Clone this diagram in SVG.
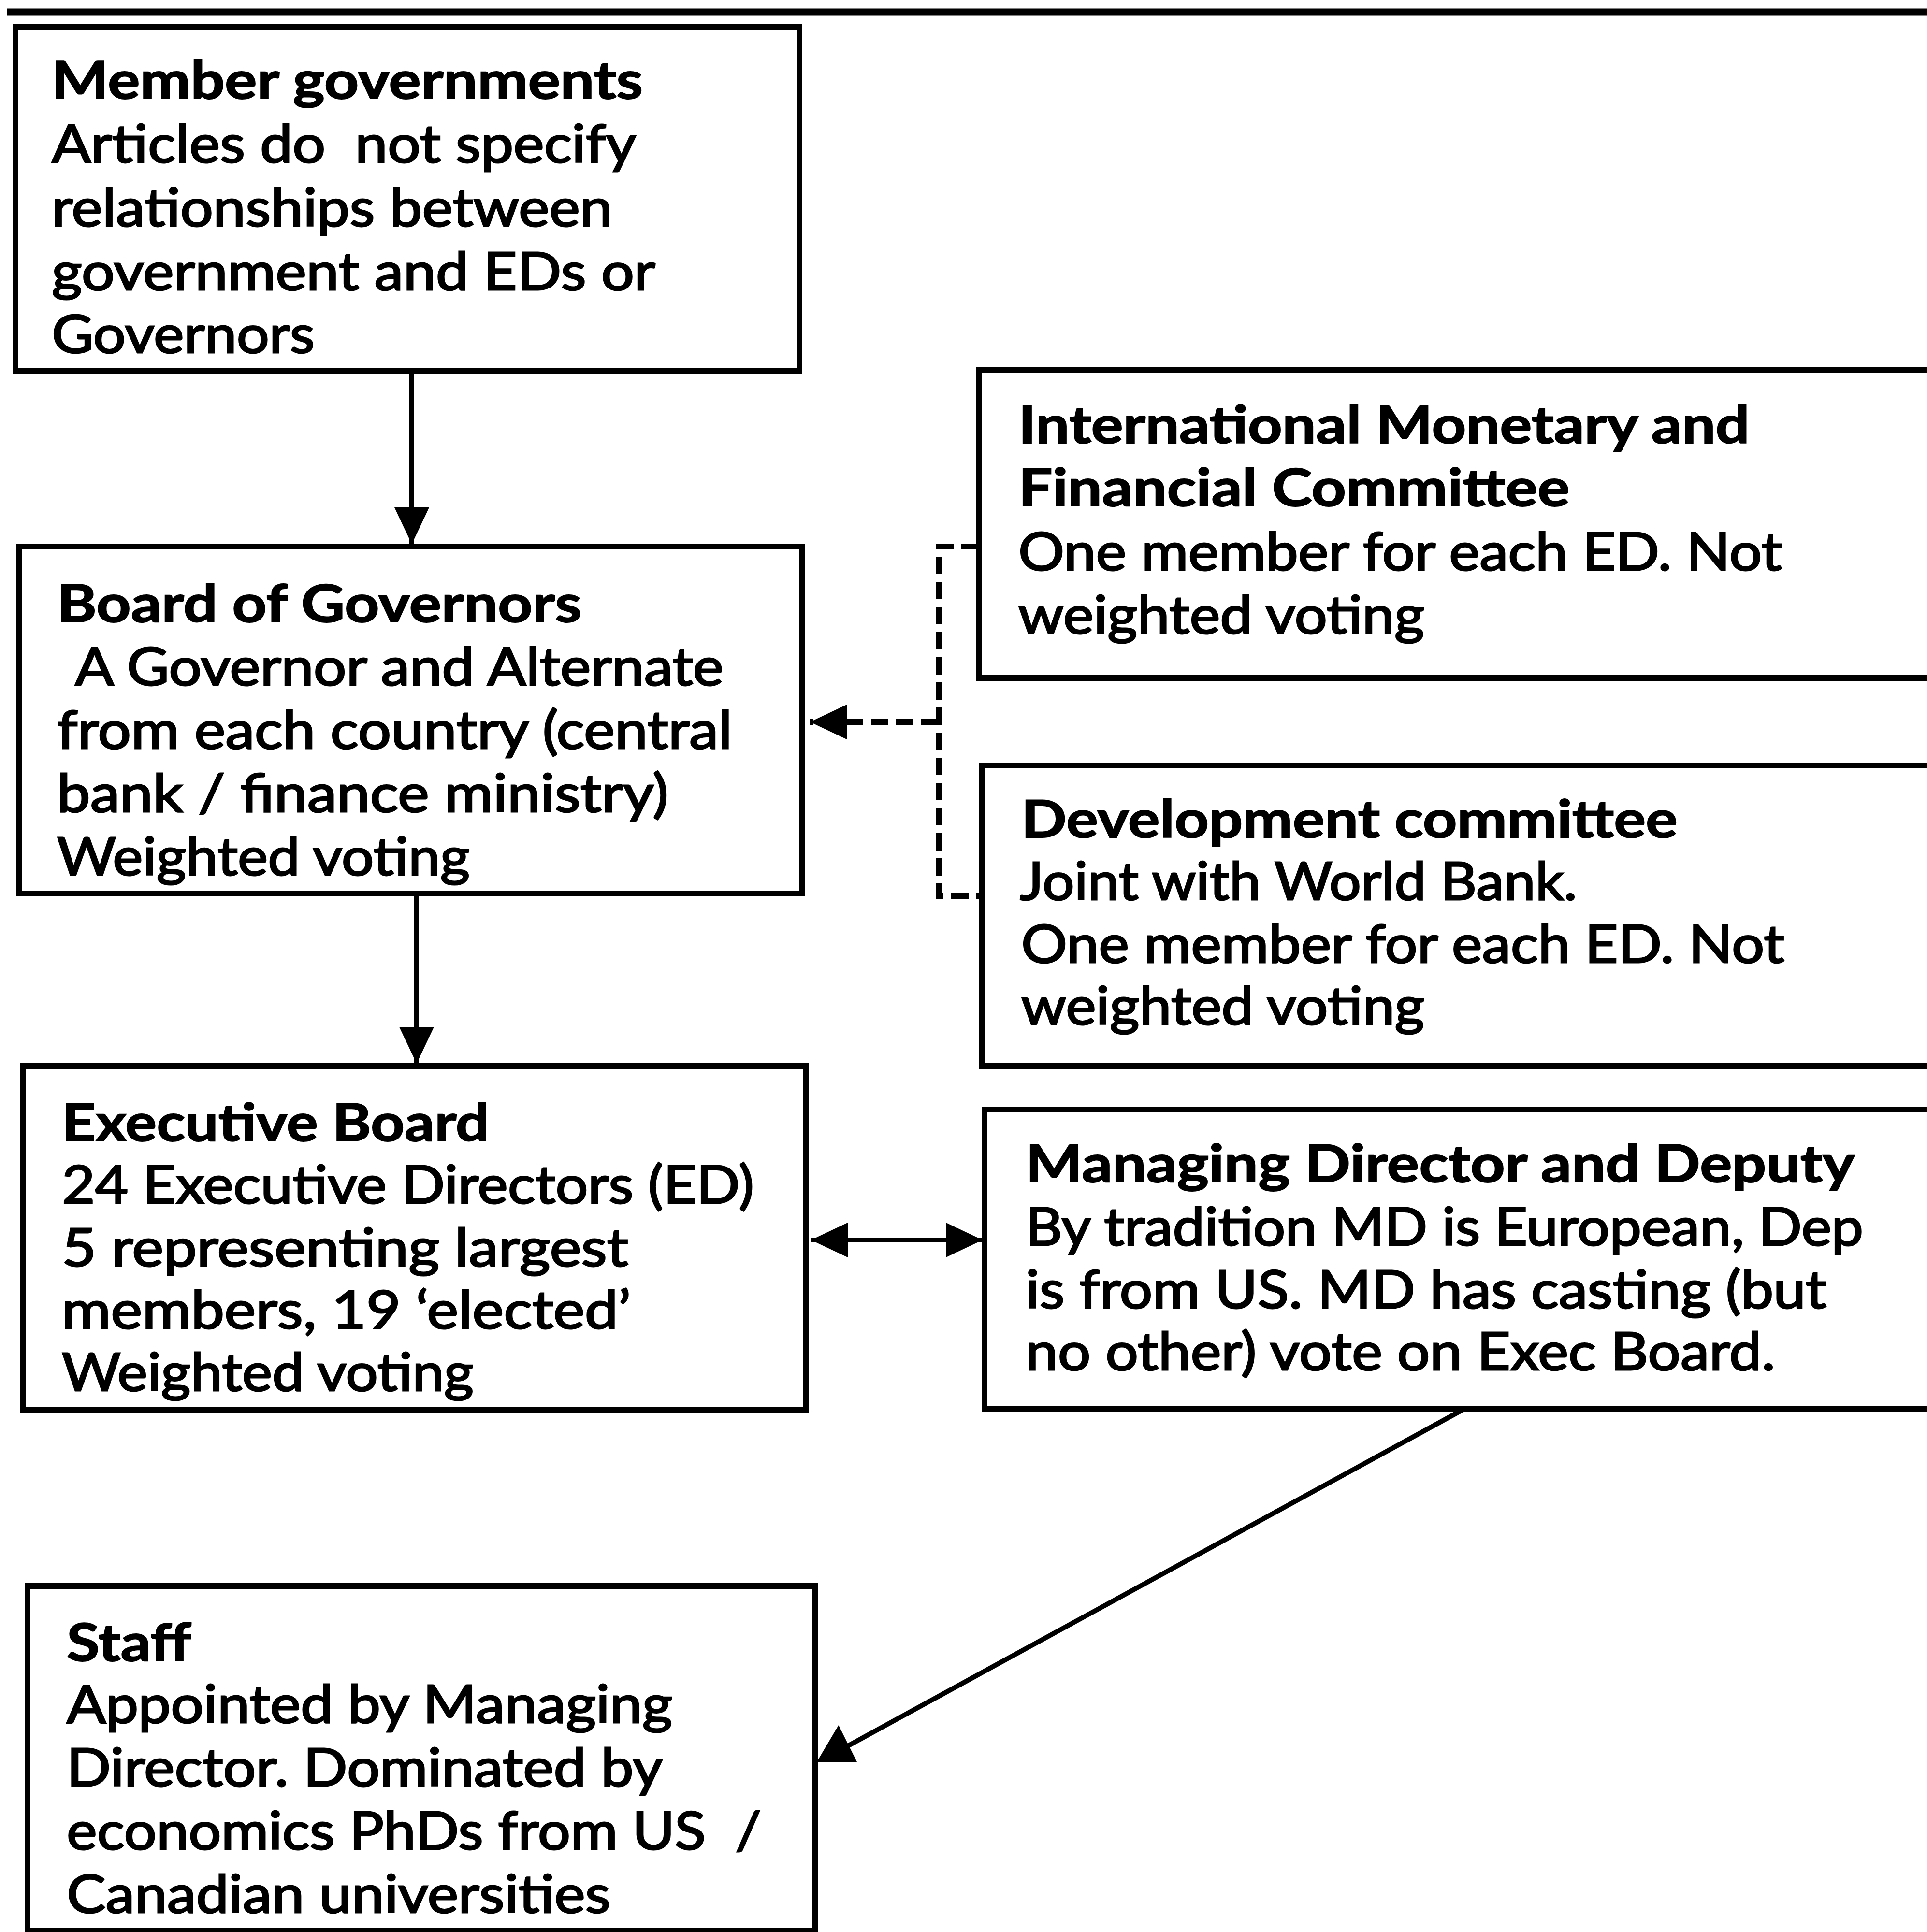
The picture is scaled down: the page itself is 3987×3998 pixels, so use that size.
<svg xmlns="http://www.w3.org/2000/svg" width="3987" height="3998" viewBox="0 0 3987 3998">
<style>
  .box { fill: #fff; stroke: #000; stroke-width: 12; }
  text { font-family: Lato, "Open Sans", "Liberation Sans", sans-serif; font-size: 108px; fill: #000; stroke: #000; stroke-width: 3; }
  .b { font-weight: 700; stroke-width: 2; }
  .con { fill: none; stroke: #000; stroke-width: 10; }
  .dash { fill: none; stroke: #000; stroke-width: 12; stroke-dasharray: 36 16; }
  .head { fill: #000; stroke: none; }
</style>
<defs>
  <marker id="arrow" viewBox="0 0 76 72" refX="76" refY="36" markerWidth="76" markerHeight="72" markerUnits="userSpaceOnUse" orient="auto-start-reverse">
    <path d="M0,0 L76,36 L0,72 z" fill="#000"/>
  </marker>
</defs>
<rect width="3987" height="3998" fill="#fff"/>
<line x1="15" y1="25" x2="3987" y2="25" stroke="#000" stroke-width="15"/>

<g id="connectors">
  <line class="con" x1="852" y1="768" x2="852" y2="1126" marker-end="url(#arrow)"/>
  <line class="con" x1="862" y1="1849" x2="862" y2="2201" marker-end="url(#arrow)"/>
  <path class="dash" d="M2025,1131 H1942 V1854 H2031"/>
  <path class="dash" d="M1942,1494 H1676" marker-end="url(#arrow)"/>
  <line class="con" x1="1678" y1="2566" x2="2033" y2="2566" marker-start="url(#arrow)" marker-end="url(#arrow)"/>
  <line class="con" x1="3027" y1="2917" x2="1745" y2="3618"/>
  <polygon class="head" points="1690,3646 1773,3646 1735,3570"/>
</g>

<g id="member-governments">
  <rect class="box" x="32" y="56" width="1622" height="712"/>
  <text class="b" x="107" y="204" textLength="1223" lengthAdjust="spacingAndGlyphs">Member governments</text>
  <text x="107" y="336" textLength="1209" lengthAdjust="spacingAndGlyphs" xml:space="preserve">Articles do  not specify</text>
  <text x="107" y="468" textLength="1160" lengthAdjust="spacingAndGlyphs">relationships between</text>
  <text x="107" y="600" textLength="1249" lengthAdjust="spacingAndGlyphs">government and EDs or</text>
  <text x="107" y="730" textLength="544" lengthAdjust="spacingAndGlyphs">Governors</text>
</g>

<g id="board-of-governors">
  <rect class="box" x="40" y="1131" width="1619" height="718"/>
  <text class="b" x="118" y="1287" textLength="1085" lengthAdjust="spacingAndGlyphs">Board of Governors</text>
  <text x="155" y="1418" textLength="1342" lengthAdjust="spacingAndGlyphs">A Governor and Alternate</text>
  <text x="118" y="1549" textLength="1397" lengthAdjust="spacingAndGlyphs">from each country (central</text>
  <text x="118" y="1680" textLength="1265" lengthAdjust="spacingAndGlyphs">bank / finance ministry)</text>
  <text x="118" y="1811" textLength="854" lengthAdjust="spacingAndGlyphs">Weighted voting</text>
</g>

<g id="executive-board">
  <rect class="box" x="48" y="2206" width="1620" height="711"/>
  <text class="b" x="128" y="2361" textLength="884" lengthAdjust="spacingAndGlyphs">Executive Board</text>
  <text x="128" y="2490" textLength="1432" lengthAdjust="spacingAndGlyphs">24 Executive Directors (ED)</text>
  <text x="128" y="2620" textLength="1172" lengthAdjust="spacingAndGlyphs">5 representing largest</text>
  <text x="128" y="2749" textLength="1177" lengthAdjust="spacingAndGlyphs">members, 19 ‘elected’</text>
  <text x="128" y="2878" textLength="852" lengthAdjust="spacingAndGlyphs">Weighted voting</text>
</g>

<g id="staff">
  <rect class="box" x="57" y="3282" width="1629" height="714"/>
  <text class="b" x="138" y="3437" textLength="258" lengthAdjust="spacingAndGlyphs">Staff</text>
  <text x="138" y="3565" textLength="1253" lengthAdjust="spacingAndGlyphs">Appointed by Managing</text>
  <text x="138" y="3696" textLength="1233" lengthAdjust="spacingAndGlyphs">Director. Dominated by</text>
  <text x="138" y="3827" textLength="1437" lengthAdjust="spacingAndGlyphs" xml:space="preserve">economics PhDs from US  /</text>
  <text x="138" y="3958" textLength="1125" lengthAdjust="spacingAndGlyphs">Canadian universities</text>
</g>

<g id="imfc">
  <rect class="box" x="2025" y="765" width="1985" height="638"/>
  <text class="b" x="2107" y="917" textLength="1513" lengthAdjust="spacingAndGlyphs">International Monetary and</text>
  <text class="b" x="2107" y="1047" textLength="1141" lengthAdjust="spacingAndGlyphs">Financial Committee</text>
  <text x="2107" y="1180" textLength="1580" lengthAdjust="spacingAndGlyphs">One member for each ED. Not</text>
  <text x="2107" y="1311" textLength="840" lengthAdjust="spacingAndGlyphs">weighted voting</text>
</g>

<g id="development-committee">
  <rect class="box" x="2031" y="1584" width="1979" height="622"/>
  <text class="b" x="2113" y="1733" textLength="1358" lengthAdjust="spacingAndGlyphs">Development committee</text>
  <text x="2110" y="1862" textLength="1153" lengthAdjust="spacingAndGlyphs">Joint with World Bank.</text>
  <text x="2113" y="1992" textLength="1579" lengthAdjust="spacingAndGlyphs">One member for each ED. Not</text>
  <text x="2113" y="2120" textLength="834" lengthAdjust="spacingAndGlyphs">weighted voting</text>
</g>

<g id="managing-director">
  <rect class="box" x="2037" y="2296" width="1973" height="619"/>
  <text class="b" x="2122" y="2446" textLength="1715" lengthAdjust="spacingAndGlyphs">Managing Director and Deputy</text>
  <text x="2122" y="2577" textLength="1733" lengthAdjust="spacingAndGlyphs">By tradition MD is European, Dep</text>
  <text x="2122" y="2707" textLength="1657" lengthAdjust="spacingAndGlyphs">is from US. MD has casting (but</text>
  <text x="2122" y="2835" textLength="1551" lengthAdjust="spacingAndGlyphs">no other) vote on Exec Board.</text>
</g>
</svg>
